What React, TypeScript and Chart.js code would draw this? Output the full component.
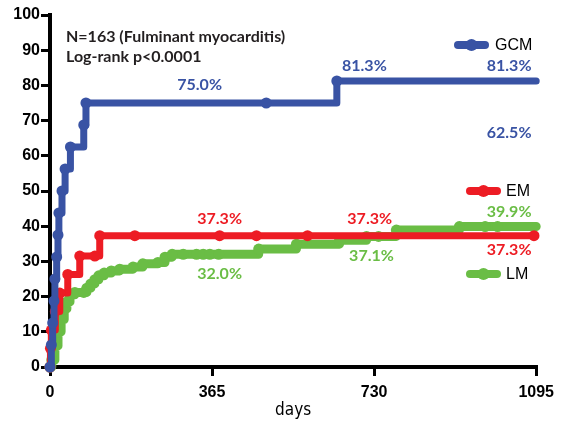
import React, { useEffect, useRef } from "react";
import { Chart, registerables } from "chart.js";

Chart.register(...registerables);

// ---- data ----
const X_TICKS = [0, 365, 730, 1095];

const GCM_DAYS = [0, 3, 6, 9, 11, 15, 18, 20, 27, 34, 46, 76, 81, 487, 646, 1095];
const GCM_PCT = [0, 6.25, 12.5, 18.75, 25, 31.25, 37.5, 43.75, 50, 56.25, 62.5, 68.75, 75, 75, 81.25, 81.25];

const EM_DAYS = [0, 1, 3, 12, 22, 40, 67, 101, 112, 191, 382, 465, 580, 1090];
const EM_PCT = [0, 5.3, 10.5, 15.8, 21.0, 26.3, 31.5, 31.5, 37.3, 37.3, 37.3, 37.3, 37.3, 37.3];

const LM_DAYS = [0, 4, 11, 18, 25, 32, 38, 45, 56, 76, 83, 92, 101, 110, 122, 138, 157, 187, 209, 243, 259, 275, 300, 330, 345, 360, 380, 470, 555, 652, 713, 740, 780, 922, 980, 1008, 1095];
const LM_PCT = [0, 2, 6, 10, 13.5, 16.5, 18.5, 20.5, 21.2, 21.2, 22.4, 23.6, 24.8, 25.9, 26.7, 27.3, 27.8, 28.4, 29.3, 29.7, 31.2, 32.0, 32.0, 32.0, 32.0, 32.0, 32.0, 33.5, 34.9, 36.0, 37.1, 37.1, 38.9, 39.9, 39.9, 39.9, 39.9];

const LABEL_TEXTS = ["75.0%", "81.3%", "81.3%", "62.5%", "37.3%", "37.3%", "39.9%", "37.3%", "37.1%", "32.0%"];
const LABEL_DAYS = [337, 708, 1034, 1034, 382, 720, 1034, 1034, 724, 382];
const LABEL_PCT = [80.1, 85.5, 85.5, 66.5, 42.0, 42.0, 44.0, 33.2, 31.5, 26.4];
const LABEL_SERIES = ["GCM", "GCM", "GCM", "GCM", "EM", "EM", "LM", "EM", "LM", "LM"];

const SERIES_NAMES = ["GCM", "EM", "LM"];
const TITLE_LINES = ["N=163 (Fulminant myocarditis)", "Log-rank p<0.0001"];

const COLORS: Record<string, string> = {
  GCM: "#3953A4",
  EM: "#ED1C24",
  LM: "#6ABD45",
};

const toXY = (days: number[], pct: number[]) => days.map((d, i) => ({ x: d, y: pct[i] }));

const overlayPlugin = {
  id: "overlay",
  afterDatasetsDraw(chart: any) {
    const ctx = chart.ctx;
    const xs = chart.scales.x;
    const ys = chart.scales.y;
    ctx.save();
    // title text
    ctx.fillStyle = "#231F20";
    ctx.font = "bold 16px Lato";
    ctx.textAlign = "left";
    ctx.textBaseline = "middle";
    ctx.fillText(TITLE_LINES[0], 66, 37);
    ctx.fillText(TITLE_LINES[1], 66, 57);

    // value labels
    ctx.textAlign = "center";
    LABEL_TEXTS.forEach((t, i) => {
      ctx.fillStyle = COLORS[LABEL_SERIES[i]];
      ctx.fillText(t, xs.getPixelForValue(LABEL_DAYS[i]), ys.getPixelForValue(LABEL_PCT[i]));
    });

    // legend
    const legendPos = [
      { x1: 458, x2: 485, y: 45, tx: 495 },
      { x1: 470, x2: 497, y: 191, tx: 506 },
      { x1: 470, x2: 497, y: 274, tx: 506 },
    ];
    SERIES_NAMES.forEach((name, i) => {
      const p = legendPos[i];
      ctx.strokeStyle = COLORS[name];
      ctx.lineWidth = 8;
      ctx.lineCap = "round";
      ctx.beginPath();
      ctx.moveTo(p.x1, p.y);
      ctx.lineTo(p.x2, p.y);
      ctx.stroke();
      ctx.fillStyle = COLORS[name];
      ctx.beginPath();
      ctx.arc((p.x1 + p.x2) / 2, p.y, 6, 0, Math.PI * 2);
      ctx.fill();
      ctx.fillStyle = "#000";
      ctx.font = "16px 'Liberation Sans'";
      ctx.textAlign = "left";
      ctx.fillText(name, p.tx, p.y + 1);
    });
    ctx.restore();
  },
};

export default function App() {
  const ref = useRef<HTMLCanvasElement>(null);
  useEffect(() => {
    if (!ref.current) return;
    const mk = (name: string, days: number[], pct: number[], width: number, hideLast: boolean) => ({
      label: name,
      data: toXY(days, pct),
      borderColor: COLORS[name],
      backgroundColor: COLORS[name],
      borderWidth: width,
      stepped: "before" as const,
      pointRadius: (c: any) => (hideLast && c.dataIndex === days.length - 1 ? 0 : 5.5),
      pointBackgroundColor: COLORS[name],
      pointBorderWidth: 0,
      borderCapStyle: "round" as const,
      borderJoinStyle: "round" as const,
      clip: false as any,
      fill: false,
    });
    const chart = new Chart(ref.current, {
      type: "line",
      data: {
        datasets: [
          mk("GCM", GCM_DAYS, GCM_PCT, 7, true),
          mk("EM", EM_DAYS, EM_PCT, 7, false),
          mk("LM", LM_DAYS, LM_PCT, 9, true),
        ],
      },
      options: {
        animation: false,
        responsive: false,
        devicePixelRatio: 1,
        layout: { padding: { left: 0, top: 15, right: 24, bottom: 0 } },
        plugins: {
          legend: { display: false },
          tooltip: { enabled: false },
          title: { display: false },
        },
        scales: {
          x: {
            type: "linear",
            min: 0,
            max: 1095,
            afterBuildTicks: (s: any) => {
              s.ticks = X_TICKS.map((v) => ({ value: v }));
            },
            afterFit: (s: any) => {
              s.height = 54;
            },
            grid: {
              display: true,
              drawOnChartArea: false,
              drawTicks: true,
              tickLength: 9,
              lineWidth: 3,
              color: "#000",
            },
            border: { display: true, width: 4, color: "#000" },
            ticks: {
              color: "#000",
              font: { family: "'Liberation Sans'", size: 16, weight: "bold" },
              padding: 7,
              maxRotation: 0,
              callback: (v: any) => String(v),
            },
            title: {
              display: true,
              text: "days",
              color: "#000",
              font: { family: "'Liberation Sans Narrow', 'DejaVu Sans Condensed'", size: 17 },
              padding: { top: 0, bottom: 0 },
            },
          },
          y: {
            min: 0,
            max: 100,
            afterFit: (s: any) => {
              s.width = 50;
            },
            grid: {
              display: true,
              drawOnChartArea: false,
              drawTicks: true,
              tickLength: 9,
              lineWidth: 3,
              color: "#000",
            },
            border: { display: true, width: 4, color: "#000" },
            ticks: {
              stepSize: 10,
              color: "#000",
              font: { family: "'Liberation Sans'", size: 16, weight: "bold" },
              padding: 1,
            },
          },
        },
      },
      plugins: [overlayPlugin],
    });
    return () => chart.destroy();
  }, []);
  return (
    <div style={{ position: "fixed", left: 0, top: 0, width: 561, height: 421, background: "#fff" }}>
      <canvas ref={ref} width={561} height={421} style={{ display: "block" }} />
    </div>
  );
}
